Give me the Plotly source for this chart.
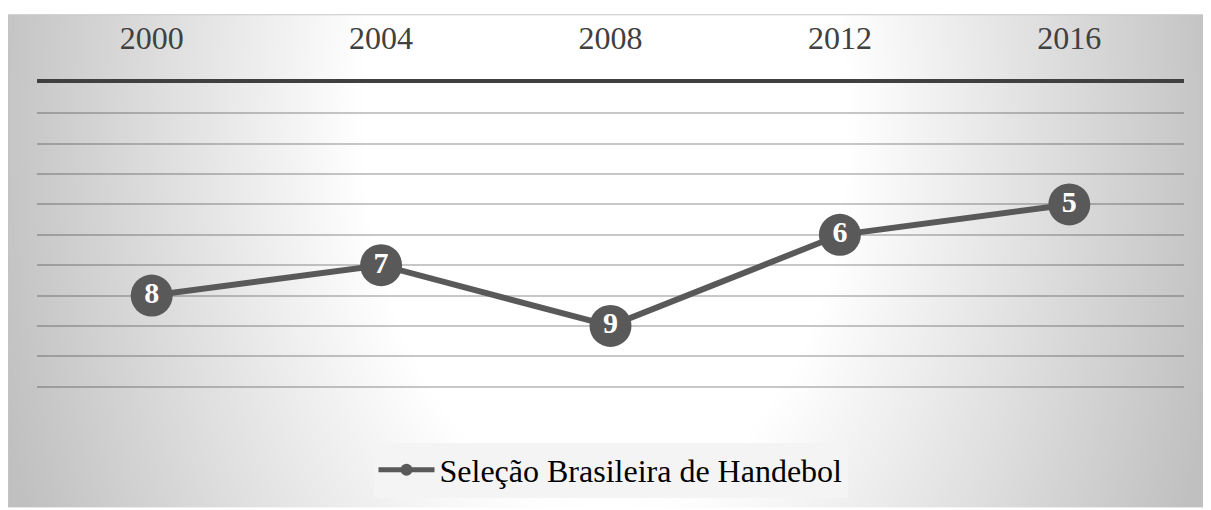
import base64, struct, zlib
import numpy as np
import plotly.graph_objects as go

years = ["2000", "2004", "2008", "2012", "2016"]
ranking = [8, 7, 9, 6, 5]
series_name = "Seleção Brasileira de Handebol"

OFF = 8  # default page body margin
W, H = 1211 - OFF, 510 - OFF
L, R, T, B = 29, 27, 70, 92
pw, ph = W - L - R, H - T - B

# radial gradient background as PNG (styling only), page coordinates
xs = np.arange(W) + OFF
ys = np.arange(H) + OFF
X, Y = np.meshgrid(xs, ys)
cx, cy, rx, ry = 605, 120, 595, 950
t = np.sqrt(((X - cx) / rx) ** 2 + ((Y - cy) / ry) ** 2)
s = np.clip((t - 0.41) / 0.59, 0, 1.1)
g = (255 - 57 * s).astype(np.uint8)
g[:, 0] = 195
g[0, :] = 200
raw = b"".join(b"\x00" + g[i].tobytes() for i in range(H))
def chunk(tag, data):
    c = struct.pack(">I", len(data)) + tag + data
    return c + struct.pack(">I", zlib.crc32(tag + data) & 0xffffffff)
png = b"\x89PNG\r\n\x1a\n" + chunk(b"IHDR", struct.pack(">IIBBBBB", W, H, 8, 0, 0, 0, 0)) \
    + chunk(b"IDAT", zlib.compress(raw, 9)) + chunk(b"IEND", b"")
uri = "data:image/png;base64," + base64.b64encode(png).decode()

SERIF = "Liberation Serif, Times New Roman, serif"

fig = go.Figure()
fig.add_trace(go.Scatter(
    x=years, y=ranking, name=series_name,
    mode="lines+markers+text",
    text=[str(v) for v in ranking], textposition="middle center",
    textfont=dict(family=SERIF, size=30, color="white", weight="bold"),
    line=dict(color="#595959", width=6),
    marker=dict(color="#595959", size=42),
))

fig.add_layout_image(dict(
    source=uri, xref="paper", yref="paper",
    x=-L / pw, y=(H - B) / ph,
    sizex=W / pw, sizey=H / ph, sizing="stretch",
    xanchor="left", yanchor="top", layer="below",
))

fig.update_layout(
    width=W, height=H,
    margin=dict(l=L, r=R, t=T, b=B),
    paper_bgcolor="white", plot_bgcolor="rgba(0,0,0,0)",
    showlegend=True,
    legend=dict(orientation="h", x=0.5, xanchor="center",
                y=(H - B - (472 - OFF)) / ph, yanchor="middle",
                font=dict(family=SERIF, size=32, color="black"),
                bgcolor="#f4f4f4", itemsizing="constant", itemwidth=56),
    xaxis=dict(side="top", type="category", range=[-0.5, 4.5],
               showgrid=False, showline=True, linecolor="#404040", linewidth=4,
               ticks="", ticklabelstandoff=17,
               tickfont=dict(family=SERIF, size=32, color="#404040")),
    yaxis=dict(range=[12, 1], dtick=1, showticklabels=False, zeroline=False,
               showgrid=True, gridcolor="rgba(0,0,0,0.22)", gridwidth=1.5, showline=False),
)

fig.write_html("out.html")
